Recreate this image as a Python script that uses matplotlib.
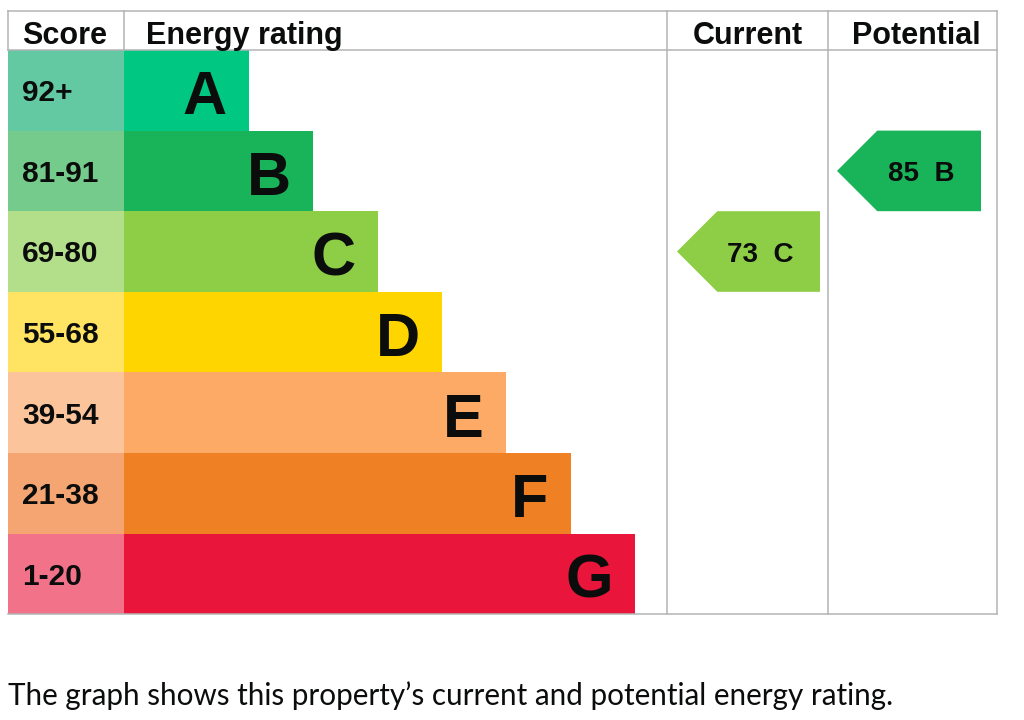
import matplotlib.pyplot as plt
from matplotlib.patches import Polygon

# --- DATA ---
bands = ['A', 'B', 'C', 'D', 'E', 'F', 'G']
score_ranges = ['92+', '81-91', '69-80', '55-68', '39-54', '21-38', '1-20']
band_floor = [92, 81, 69, 55, 39, 21, 1]
bar_colors = ['#00c781', '#19b459', '#8dce46', '#ffd500', '#fcaa65', '#ef8023', '#e9153b']
score_colors = ['#63c9a3', '#74cb8b', '#b4df8a', '#ffe464', '#fcc49b', '#f4a572', '#f27389']
current_score = 73
potential_score = 85
caption = 'The graph shows this property\u2019s current and potential energy rating.'

# --- LAYOUT (pixel space) ---
LEFT, SCORE_R, ENERGY_R, CUR_R, POT_R = 8, 124, 667, 828, 997
TOP, HEAD_B = 11, 50
ROW_H = 80.6
BAR_W0, BAR_STEP = 125, 64.3
GRID = '#b1b4b6'
FONT = 'Liberation Sans'
INK = '#0b0c0c'


def band_index(score):
    for i, lo in enumerate(band_floor):
        if score >= lo:
            return i
    return len(bands) - 1


fig = plt.figure(figsize=(10.24, 7.2), dpi=100)
ax = fig.add_axes([0, 0, 1, 1])
ax.set_xlim(0, 1024)
ax.set_ylim(720, 0)
ax.axis('off')

n = len(bands)
centers = [HEAD_B + ROW_H * (i + 0.5) for i in range(n)]
bottom = HEAD_B + ROW_H * n
widths = [BAR_W0 + BAR_STEP * i for i in range(n)]

# score cells + rating bars
ax.barh(centers, [SCORE_R - LEFT] * n, height=ROW_H, left=LEFT, color=score_colors)
ax.barh(centers, widths, height=ROW_H, left=SCORE_R, color=bar_colors)

for i in range(n):
    ax.text(22, centers[i], score_ranges[i], ha='left', va='center_baseline',
            fontsize=21.5, fontweight='bold', family=FONT, color=INK)
    ax.text(SCORE_R + widths[i] - 22, centers[i] + 2, bands[i], ha='right', va='center_baseline',
            fontsize=44, fontweight='bold', family=FONT, color=INK)

# grid lines
lw = 1.1
ax.plot([LEFT, POT_R], [TOP, TOP], color=GRID, lw=lw)
ax.plot([LEFT, POT_R], [HEAD_B, HEAD_B], color=GRID, lw=lw)
ax.plot([LEFT, POT_R], [bottom, bottom], color=GRID, lw=lw)
ax.plot([LEFT, LEFT], [TOP, HEAD_B], color=GRID, lw=lw)
ax.plot([SCORE_R, SCORE_R], [TOP, HEAD_B], color=GRID, lw=lw)
for x in (ENERGY_R, CUR_R, POT_R):
    ax.plot([x, x], [TOP, bottom], color=GRID, lw=lw)

# headers
hy = (TOP + HEAD_B) / 2 + 2
for label, x, ha in [('Score', 22, 'left'), ('Energy rating', 146, 'left'),
                     ('Current', (ENERGY_R + CUR_R) / 2, 'center'),
                     ('Potential', (CUR_R + POT_R) / 2 + 4, 'center')]:
    ax.text(x, hy, label, ha=ha, va='center_baseline', fontsize=22, fontweight='bold', family=FONT, color=INK)


# arrows
def rating_arrow(score, x0, x1):
    i = band_index(score)
    top = HEAD_B + ROW_H * i
    bot = top + ROW_H
    mid = (top + bot) / 2
    tip = ROW_H / 2
    ax.add_patch(Polygon([(x0, mid), (x0 + tip, top), (x1, top), (x1, bot), (x0 + tip, bot)],
                         closed=True, color=bar_colors[i], lw=0))
    ax.text((x0 + tip + x1) / 2 - 8, mid, f'{score}  {bands[i]}', ha='center', va='center_baseline',
            fontsize=20, fontweight='bold', family=FONT, color=INK)


rating_arrow(current_score, 677, 820)
rating_arrow(potential_score, 837, 981)

ax.text(8, 693, caption, ha='left', va='center_baseline', fontsize=21.3, family=['Lato', 'DejaVu Sans'], color=INK)

fig.savefig('out.png', dpi=100)
